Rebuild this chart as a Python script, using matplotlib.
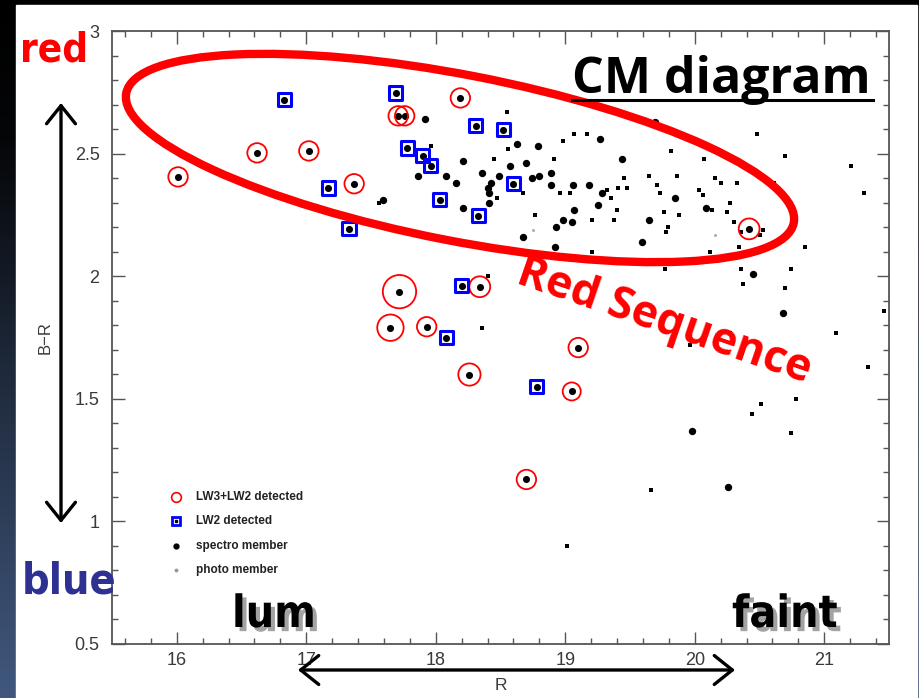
import numpy as np
import matplotlib.pyplot as plt
from matplotlib import font_manager as fm
from matplotlib.patches import Ellipse, Rectangle
from matplotlib.colors import LinearSegmentedColormap
from matplotlib.ticker import MultipleLocator, FormatStrFormatter
import matplotlib.patheffects as pe

plt.rcParams['font.family'] = ['Liberation Sans', 'DejaVu Sans']

# LW3+LW2 detected (red circles), R mag / B-R colour / marker diameter
lw3_r = [16.01, 16.62, 17.02, 17.37, 17.71, 17.76, 18.19, 17.72, 17.65, 17.93,
         18.34, 18.26, 19.10, 19.05, 18.70, 20.42]
lw3_br = [2.405, 2.503, 2.511, 2.377, 2.654, 2.654, 2.727, 1.937, 1.790, 1.794,
          1.957, 1.599, 1.709, 1.530, 1.171, 2.193]
lw3_size = [14, 14, 14, 14, 14, 14, 14, 24, 19, 14, 15, 16, 14, 13, 14, 15]

# LW2 detected (blue squares)
lw2_r = [16.83, 17.17, 17.33, 17.69, 17.78, 17.90, 17.96, 18.03, 18.31, 18.52,
         18.33, 18.60, 18.20, 18.08, 18.78]
lw2_br = [2.719, 2.360, 2.193, 2.747, 2.523, 2.491, 2.450, 2.312, 2.613, 2.597,
          2.246, 2.377, 1.961, 1.749, 1.550]

# spectro members, bright ones
spec_r = [17.92, 18.63, 18.21, 18.57, 18.70, 17.86, 18.08, 18.16, 18.36, 18.49,
          18.43, 18.40, 18.41, 18.41, 18.21, 17.59, 18.67, 19.69, 19.27, 18.79,
          19.44, 18.80, 18.89, 18.74, 18.89, 19.06, 19.18, 19.28, 19.25, 19.07,
          18.98, 19.05, 18.93, 19.65, 19.59, 18.92, 19.85, 20.09, 20.45, 20.68,
          19.98, 20.26]
spec_br = [2.64, 2.54, 2.47, 2.45, 2.46, 2.41, 2.41, 2.38, 2.42, 2.41,
           2.38, 2.36, 2.34, 2.30, 2.28, 2.31, 2.16, 2.63, 2.56, 2.53,
           2.48, 2.41, 2.42, 2.40, 2.37, 2.37, 2.37, 2.34, 2.29, 2.27,
           2.23, 2.22, 2.20, 2.23, 2.14, 2.12, 2.32, 2.28, 2.01, 1.85,
           1.37, 1.14]

# spectro members, small marks
small_r = [18.55, 18.56, 18.45, 18.67, 18.47, 17.96, 19.07, 19.17, 18.98, 18.91,
           19.45, 19.65, 19.41, 19.48, 19.32, 18.96, 19.04, 19.35, 19.71, 19.73,
           19.40, 18.77, 19.21, 19.38, 19.76, 19.79, 19.78, 19.21, 20.48, 19.89,
           19.82, 20.07, 20.70, 21.21, 21.31, 19.86, 20.16, 20.20, 20.33, 20.61,
           20.03, 20.06, 20.27, 20.13, 20.25, 19.88, 20.30, 20.53, 20.50, 20.36,
           20.34, 20.12, 20.85, 19.77, 20.36, 20.74, 20.37, 20.70, 21.46, 21.09,
           19.96, 20.27, 21.34, 20.78, 20.51, 20.44, 20.74, 19.66, 19.01, 18.36,
           18.40, 17.56]
small_br = [2.67, 2.52, 2.48, 2.34, 2.32, 2.53, 2.58, 2.58, 2.55, 2.48,
            2.40, 2.41, 2.36, 2.36, 2.35, 2.34, 2.34, 2.32, 2.37, 2.34,
            2.27, 2.25, 2.23, 2.23, 2.26, 2.20, 2.18, 2.10, 2.58, 2.57,
            2.51, 2.48, 2.49, 2.45, 2.34, 2.41, 2.40, 2.38, 2.38, 2.38,
            2.35, 2.33, 2.30, 2.27, 2.26, 2.25, 2.22, 2.19, 2.17, 2.18,
            2.12, 2.10, 2.12, 2.03, 2.03, 2.03, 1.97, 1.95, 1.86, 1.77,
            1.72, 1.77, 1.63, 1.50, 1.48, 1.44, 1.36, 1.13, 0.90, 1.79,
            2.00, 2.30]

# photo members
photo_r = [18.75, 20.16]
photo_br = [2.19, 2.17]

legend_labels = ['LW3+LW2 detected', 'LW2 detected', 'spectro member', 'photo member']


def condensed_bold():
    # look for a narrow / condensed bold face for the big slide words
    for f in fm.fontManager.ttflist:
        fn = f.fname.lower()
        if ('narrow' in fn or 'condensed' in fn) and 'bold' in fn \
                and 'italic' not in fn and 'oblique' not in fn:
            return fm.FontProperties(fname=f.fname)
    return fm.FontProperties(family='DejaVu Sans', weight='bold', stretch='condensed')


W, H = 919, 698
fig = plt.figure(figsize=(W / 100, H / 100), dpi=100)
fig.patch.set_facecolor('black')

# slide background
bg = fig.add_axes([0, 0, 1, 1], zorder=0)
cmap = LinearSegmentedColormap.from_list(
    'bg', [(0, '#000000'), (0.2, '#050608'), (0.5, '#1c2636'), (1, '#41587e')])
bg.imshow(np.linspace(0, 1, 256).reshape(-1, 1), cmap=cmap,
          extent=(0, W, H, 0), aspect='auto')
bg.add_patch(Rectangle((16, 5), 901, 700, color='white'))
bg.set_xlim(0, W)
bg.set_ylim(H, 0)
bg.axis('off')

# the CM plot itself
ax = fig.add_axes([112 / W, 1 - 644 / H, 777 / W, 613 / H], zorder=1)
ax.set_facecolor('white')

ax.scatter(small_r, small_br, s=10, marker='s', c='black', lw=0)
ax.scatter(spec_r, spec_br, s=28, c='black', lw=0)
ax.scatter(photo_r, photo_br, s=5, c='#b0b0b0', lw=0)
ax.scatter(lw3_r, lw3_br, s=26, c='black', lw=0)
ax.scatter(lw2_r, lw2_br, s=26, c='black', lw=0)
ax.scatter(lw3_r, lw3_br, s=np.array(lw3_size) ** 2, facecolors='none',
           edgecolors='red', linewidths=1.3)
ax.scatter(lw2_r, lw2_br, s=90, marker='s', facecolors='none',
           edgecolors='blue', linewidths=2.2)

ax.set_xlim(15.5, 21.5)
ax.set_ylim(0.5, 3)
ax.xaxis.set_major_locator(MultipleLocator(1))
ax.xaxis.set_minor_locator(MultipleLocator(0.2))
ax.yaxis.set_major_locator(MultipleLocator(0.5))
ax.yaxis.set_minor_locator(MultipleLocator(0.1))
ax.xaxis.set_major_formatter(FormatStrFormatter('%g'))
ax.yaxis.set_major_formatter(FormatStrFormatter('%g'))
ax.tick_params(which='both', direction='in', top=True, right=True,
               color='#555555', width=1)
ax.tick_params(which='major', length=9, labelsize=13, labelcolor='#3a3a3a')
ax.tick_params(which='minor', length=4.5)
ax.tick_params(axis='x', pad=6)
ax.tick_params(axis='y', pad=9)
for sp in ax.spines.values():
    sp.set_color('#555555')
    sp.set_linewidth(1.3)

ax.set_xlabel('R', fontsize=12.5, color='#3a3a3a')
ax.set_ylabel('B\u2212R', fontsize=12, color='#3a3a3a')
ax.xaxis.set_label_coords(0.5006, -0.055)
ax.yaxis.set_label_coords(-0.076, 0.5)

# hand-made legend
leg_y = 0.2398
for i, lab in enumerate(legend_labels):
    yy = leg_y - i * 0.0397
    if i == 0:
        ax.plot(0.0824, yy, 'o', ms=7, mfc='none', mec='red', mew=1.2,
                transform=ax.transAxes)
    elif i == 1:
        ax.plot(0.0824, yy, 's', ms=6, mfc='none', mec='blue', mew=2,
                transform=ax.transAxes)
        ax.plot(0.0824, yy, 's', ms=1.5, color='black', transform=ax.transAxes)
    elif i == 2:
        ax.plot(0.0824, yy, 'o', ms=3.5, color='black', transform=ax.transAxes)
    else:
        ax.plot(0.0824, yy, 'o', ms=1.8, color='#999999', transform=ax.transAxes)
    ax.text(0.108, yy, lab, transform=ax.transAxes, fontsize=8.5,
            fontweight='bold', va='center', ha='left', color='#222222')

# slide annotations on top (pixel coordinates)
ov = fig.add_axes([0, 0, 1, 1], zorder=3)
ov.set_xlim(0, W)
ov.set_ylim(H, 0)
ov.axis('off')

ov.add_patch(Ellipse((460, 158), 680, 166, angle=11, fill=False,
                     ec='#ff0000', lw=6))

big = condensed_bold()
shadow = [pe.SimplePatchShadow(offset=(3, -3), shadow_rgbFace='#666666', alpha=0.6),
          pe.Normal()]
ov.text(20, 62, 'red', color='#ff0000', fontproperties=big, fontsize=29,
        ha='left', va='baseline')
ov.text(22, 593, 'blue', color='#2e3192', fontproperties=big, fontsize=31,
        ha='left', va='baseline')
ov.text(232, 627, 'lum', color='black', fontproperties=big, fontsize=32,
        ha='left', va='baseline', path_effects=shadow)
ov.text(732, 627, 'faint', color='black', fontproperties=big, fontsize=32,
        ha='left', va='baseline', path_effects=shadow)

ov.text(572, 93, 'CM diagram', color='black', fontsize=36, fontweight='bold',
        family=['Open Sans', 'DejaVu Sans'], ha='left', va='baseline')
ov.plot([572, 873], [100, 100], color='black', lw=2.2)

ov.text(664, 322, 'Red Sequence', color='#ff0000', fontsize=32, fontweight='bold',
        family=['Open Sans', 'DejaVu Sans'], rotation=-19, rotation_mode='anchor',
        ha='center', va='center')

arrow = dict(arrowstyle='<->,head_length=0.65,head_width=0.52', lw=2.4,
             color='black', shrinkA=0, shrinkB=0, mutation_scale=20)
ov.annotate('', xy=(61, 103), xytext=(61, 523), arrowprops=arrow)
ov.annotate('', xy=(298, 670), xytext=(735, 670), arrowprops=arrow)

fig.savefig('out.png', dpi=100, facecolor=fig.get_facecolor())
